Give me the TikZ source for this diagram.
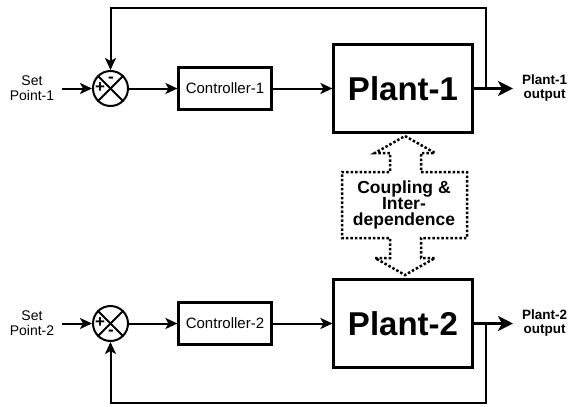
\documentclass[tikz,border=0pt]{standalone}
\usepackage{fontspec}
\setmainfont{Liberation Sans}
\usetikzlibrary{arrows.meta, calc, positioning}

\begin{document}
\begin{tikzpicture}[x=1pt, y=-1pt, line width=2pt,
    arr/.style={-{Stealth[length=12pt,width=11pt,inset=3pt]}},
    bigarr/.style={line width=3pt, -{Stealth[length=15pt,width=15pt,inset=4pt]}},
    sumnode/.style={draw, circle, line width=2pt, minimum size=35pt, inner sep=0pt},
    ctrlbox/.style={draw, line width=2.2pt, minimum width=93pt, minimum height=42pt, inner sep=0pt, font=\fontsize{15}{15}\selectfont},
    plantbox/.style={draw, line width=2.2pt, minimum width=139pt, minimum height=88pt, inner sep=0pt, font=\fontsize{33}{33}\selectfont\bfseries},
    sptext/.style={align=center, inner xsep=7pt, inner ysep=0pt, font=\fontsize{14}{15}\selectfont},
    outtext/.style={align=center, anchor=west, inner xsep=8pt, inner ysep=0pt, font=\fontsize{13.5}{14}\selectfont\bfseries},
    sign/.style={inner sep=0pt, font=\fontsize{17}{17}\selectfont\bfseries},
    coupling/.style={line width=2.5pt, dash pattern=on 2.5pt off 2pt}]
    \useasboundingbox (0,0) rectangle (571,407);

    \node[sumnode] (sum1) at (110.5,88.5) {};
    \node[sumnode] (sum2) at (110.5,323.5) {};
    \node[sptext] (sp1) at (32,88.5) {Set\\Point-1};
    \node[sptext] (sp2) at (32,323.5) {Set\\Point-2};
    \node[ctrlbox] (ctrl1) at (225,88.5) {Controller-1};
    \node[ctrlbox] (ctrl2) at (225,323.5) {Controller-2};
    \node[plantbox] (plant1) at (403,88.5) {Plant-1};
    \node[plantbox] (plant2) at (403,323.5) {Plant-2};
    \node[outtext] (out1) at (513,88.5) {Plant-1\\output};
    \node[outtext] (out2) at (513,323.5) {Plant-2\\output};

    \node[sign] (plus1) at (100,88) {+};
    \node[sign] (minus1) at (111,79.5) {-};
    \node[sign] (plus2) at (100,323) {+};
    \node[sign] (minus2) at (111,333) {-};
    \draw (sum1.north west) -- (sum1.south east);
    \draw (sum1.north east) -- (sum1.south west);
    \draw (sum2.north west) -- (sum2.south east);
    \draw (sum2.north east) -- (sum2.south west);

    \draw[arr] (sp1.east) -- (sum1.west);
    \draw[arr] (sum1.east) -- (ctrl1.west);
    \draw[arr] (ctrl1.east) -- (plant1.west);
    \draw[bigarr] (plant1.east) -- (out1.west);
    \draw[arr] (sp2.east) -- (sum2.west);
    \draw[arr] (sum2.east) -- (ctrl2.west);
    \draw[arr] (ctrl2.east) -- (plant2.west);
    \draw[bigarr] (plant2.east) -- (out2.west);

    \coordinate (tap1) at (486,88.5);
    \coordinate (top1) at (486,7.5);
    \coordinate (tap2) at (486,323.5);
    \coordinate (bot2) at (486,403);
    \draw[arr] (tap1) -- (top1) -| (sum1.north);
    \draw[arr] (tap2) -- (bot2) -| (sum2.south);

    \draw[coupling] (405,136) -- (435,153) -- (421,153) -- (421,172) -- (467,172)
        -- (467,238) -- (421,238) -- (421,258) -- (435,258) -- (405,275)
        -- (375,258) -- (390,258) -- (390,238) -- (342,238) -- (342,172)
        -- (390,172) -- (390,153) -- (375,153) -- cycle;
    \node[align=center, inner sep=0pt, font=\fontsize{17.5}{16}\selectfont\bfseries] (coup) at (404,205) {Coupling \&\\Inter-\\dependence};
\end{tikzpicture}
\end{document}
